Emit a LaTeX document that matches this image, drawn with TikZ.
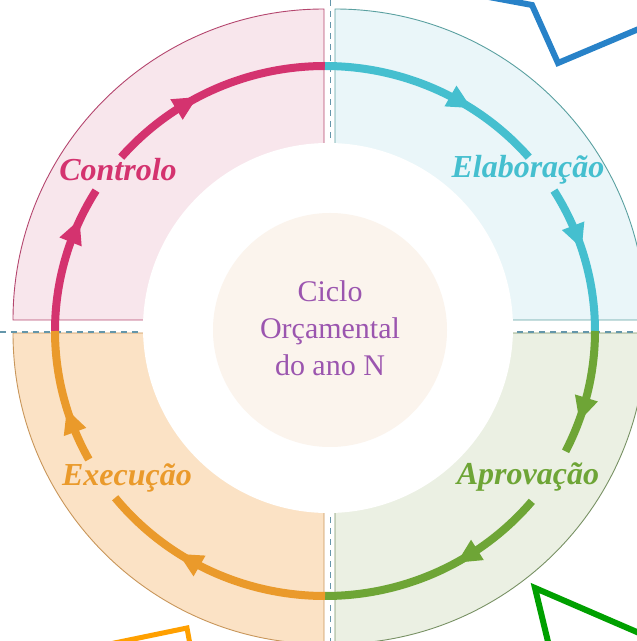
\documentclass[tikz,border=0pt]{standalone}
\usepackage{fontspec}
\setmainfont{Liberation Serif}
\usetikzlibrary{calc}
\definecolor{pinkfill}{RGB}{248,230,236}
\definecolor{pinkline}{RGB}{180,70,110}
\definecolor{pinkarc}{RGB}{212,51,111}
\definecolor{cyanfill}{RGB}{234,246,249}
\definecolor{cyanline}{RGB}{90,160,160}
\definecolor{cyanarc}{RGB}{69,191,207}
\definecolor{greenfill}{RGB}{235,240,227}
\definecolor{greenline}{RGB}{120,145,100}
\definecolor{greenarc}{RGB}{110,165,54}
\definecolor{orangefill}{RGB}{251,226,197}
\definecolor{orangeline}{RGB}{200,150,90}
\definecolor{orangearc}{RGB}{234,154,43}
\definecolor{dashc}{RGB}{100,150,170}
\definecolor{peach}{RGB}{251,244,237}
\definecolor{purp}{RGB}{155,85,175}
\definecolor{decoblue}{RGB}{40,130,200}
\definecolor{decogreen}{RGB}{0,160,0}
\definecolor{decoorange}{RGB}{255,160,0}
\newcommand\cycseg[3]{\draw[cyclearc,#1] ($(A)+(#2:270 and 265)$) arc[start angle=#2, end angle=#3, x radius=270, y radius=265];}
\newcommand\cycarrow[2]{\begin{scope}[shift={($(A)+(#2:270 and 265)$)}, rotate={#2-90}]\fill[#1] (13,0) -- (-11,12) -- (-11,-12) -- cycle;\end{scope}}
\begin{document}
\begin{tikzpicture}[x=1pt,y=1pt,
  sector/.style={line width=0.9pt},
  cyclearc/.style={line width=8pt},
  dashline/.style={draw=dashc, dash pattern=on 6pt off 5pt, line width=1.5pt},
  phase/.style={font=\fontsize{32}{36}\selectfont\bfseries\itshape},
  deco/.style={line width=6pt, line join=miter}]
\useasboundingbox (0,0) rectangle (637,641);
\clip (0,0) rectangle (637,641);
\coordinate (TL) at (324,321);
\coordinate (TR) at (335,321);
\coordinate (BL) at (324,308);
\coordinate (BR) at (335,308);
\coordinate (A) at (325,310);
\coordinate (W) at (328,313);
\coordinate (P) at (330,311);
% sectors
\filldraw[sector, fill=pinkfill, draw=pinkline] (TL) -- ++(180:311) arc[start angle=180, end angle=90, radius=311] -- cycle;
\filldraw[sector, fill=cyanfill, draw=cyanline] (TR) -- ++(90:311) arc[start angle=90, end angle=0, radius=311] -- cycle;
\filldraw[sector, fill=greenfill, draw=greenline] (BR) -- ++(0:311) arc[start angle=0, end angle=-90, radius=311] -- cycle;
\filldraw[sector, fill=orangefill, draw=orangeline] (BL) -- ++(-90:311) arc[start angle=-90, end angle=-180, radius=311] -- cycle;
% dashed axes
\coordinate (vt) at (330.5,641);
\coordinate (vb) at (330.5,0);
\coordinate (hl) at (0,309);
\coordinate (hr) at (637,309);
\draw[dashline] (vt) -- (vb);
\draw[dashline] (hl) -- (hr);
% inner circles
\fill[white] (W) circle[radius=185];
\fill[peach] (P) circle[radius=117];
% cycle arcs
\cycseg{pinkarc}{180}{148}
\cycseg{pinkarc}{139}{90}
\cycseg{cyanarc}{90}{41}
\cycseg{cyanarc}{32}{0}
\cycseg{greenarc}{0}{-27}
\cycseg{greenarc}{-40}{-90}
\cycseg{orangearc}{-90}{-141}
\cycseg{orangearc}{-151}{-180}
\cycarrow{pinkarc}{158}
\cycarrow{pinkarc}{121}
\cycarrow{cyanarc}{60}
\cycarrow{cyanarc}{21}
\cycarrow{greenarc}{-17}
\cycarrow{greenarc}{-58}
\cycarrow{orangearc}{-120}
\cycarrow{orangearc}{-160}
% labels
\node[phase, text=pinkarc] (ctrl) at (118,471) {Controlo};
\node[phase, text=cyanarc] (elab) at (528,471) {Elaboração};
\node[phase, text=greenarc] (aprov) at (528,164) {Aprovação};
\node[phase, text=orangearc] (exec) at (127,163) {Execução};
\node[align=center, text=purp, font=\fontsize{30}{37}\selectfont] (ttl) at (330,313) {Ciclo\\Orçamental\\do ano N};
% decorative lines
\coordinate (b0) at (478,646);
\coordinate (b1) at (532,636);
\coordinate (b2) at (558,578);
\coordinate (b3) at (660,621);
\draw[deco, decoblue] (b0) -- (b1) -- (b2) -- (b3);
\coordinate (g0) at (550,-9);
\coordinate (g1) at (535,53);
\coordinate (g2) at (660,-1);
\draw[deco, decogreen] (g0) -- (g1) -- (g2);
\coordinate (o0) at (100,-5);
\coordinate (o1) at (187,13);
\coordinate (o2) at (191,-9);
\draw[deco, decoorange, line width=5pt] (o0) -- (o1) -- (o2);
\end{tikzpicture}
\end{document}
